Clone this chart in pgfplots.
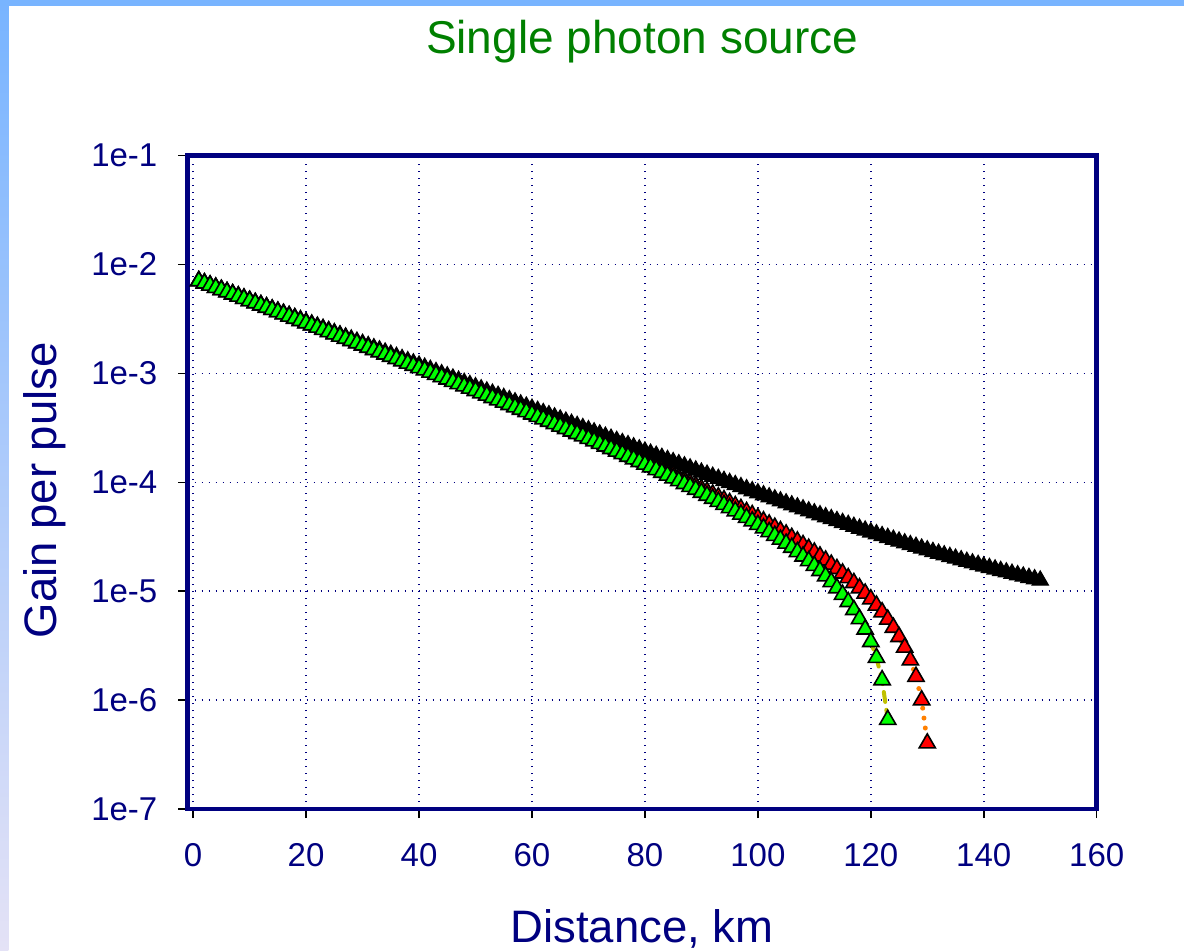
\documentclass[border=0pt]{standalone}
\usepackage{fontspec}
\setmainfont{Liberation Sans}
\usepackage{pgfplots}
\pgfplotsset{compat=1.18}
\usepackage{pgfplotstable}
\definecolor{navy}{RGB}{0,0,128}
\definecolor{titlegreen}{RGB}{0,128,0}
\definecolor{stripblue}{RGB}{120,180,255}
\definecolor{stripbottom}{RGB}{228,226,246}
\definecolor{dotorange}{RGB}{255,128,0}
\definecolor{dashyellow}{RGB}{192,192,0}
\definecolor{mkgreen}{RGB}{0,255,0}
\definecolor{mkred}{RGB}{255,0,0}

\pgfplotstableread{
x y
1 7.133e-3
2 6.812e-3
3 6.506e-3
4 6.213e-3
5 5.934e-3
6 5.667e-3
7 5.412e-3
8 5.169e-3
9 4.936e-3
10 4.715e-3
11 4.503e-3
12 4.300e-3
13 4.107e-3
14 3.922e-3
15 3.746e-3
16 3.578e-3
17 3.417e-3
18 3.263e-3
19 3.117e-3
20 2.977e-3
21 2.843e-3
22 2.715e-3
23 2.593e-3
24 2.477e-3
25 2.365e-3
26 2.259e-3
27 2.158e-3
28 2.061e-3
29 1.968e-3
30 1.880e-3
31 1.795e-3
32 1.715e-3
33 1.638e-3
34 1.564e-3
35 1.494e-3
36 1.427e-3
37 1.363e-3
38 1.302e-3
39 1.244e-3
40 1.188e-3
41 1.135e-3
42 1.084e-3
43 1.035e-3
44 9.89e-4
45 9.45e-4
46 9.02e-4
47 8.62e-4
48 8.23e-4
49 7.87e-4
50 7.515e-4
51 7.179e-4
52 6.858e-4
53 6.552e-4
54 6.259e-4
55 5.980e-4
56 5.713e-4
57 5.458e-4
58 5.215e-4
59 4.982e-4
60 4.761e-4
61 4.549e-4
62 4.346e-4
63 4.153e-4
64 3.968e-4
65 3.792e-4
66 3.624e-4
67 3.463e-4
68 3.309e-4
69 3.163e-4
70 3.023e-4
71 2.889e-4
72 2.761e-4
73 2.639e-4
74 2.523e-4
75 2.411e-4
76 2.305e-4
77 2.204e-4
78 2.107e-4
79 2.014e-4
80 1.926e-4
81 1.841e-4
82 1.761e-4
83 1.684e-4
84 1.610e-4
85 1.540e-4
86 1.473e-4
87 1.409e-4
88 1.348e-4
89 1.290e-4
90 1.234e-4
91 1.181e-4
92 1.130e-4
93 1.081e-4
94 1.035e-4
95 9.91e-5
96 9.48e-5
97 9.08e-5
98 8.69e-5
99 8.33e-5
100 7.976e-5
101 7.640e-5
102 7.319e-5
103 7.013e-5
104 6.720e-5
105 6.441e-5
106 6.174e-5
107 5.919e-5
108 5.676e-5
109 5.443e-5
110 5.222e-5
111 5.010e-5
112 4.807e-5
113 4.614e-5
114 4.429e-5
115 4.253e-5
116 4.085e-5
117 3.924e-5
118 3.770e-5
119 3.624e-5
120 3.484e-5
121 3.350e-5
122 3.222e-5
123 3.100e-5
124 2.984e-5
125 2.872e-5
126 2.766e-5
127 2.665e-5
128 2.568e-5
129 2.475e-5
130 2.387e-5
131 2.302e-5
132 2.222e-5
133 2.145e-5
134 2.071e-5
135 2.001e-5
136 1.934e-5
137 1.870e-5
138 1.809e-5
139 1.751e-5
140 1.695e-5
141 1.642e-5
142 1.591e-5
143 1.542e-5
144 1.496e-5
145 1.452e-5
146 1.409e-5
147 1.369e-5
148 1.330e-5
149 1.294e-5
150 1.258e-5
}\blacktab

\pgfplotstableread{
x y
1 7.067e-3
2 6.746e-3
3 6.441e-3
4 6.148e-3
5 5.869e-3
6 5.603e-3
7 5.348e-3
8 5.105e-3
9 4.873e-3
10 4.652e-3
11 4.440e-3
12 4.238e-3
13 4.045e-3
14 3.860e-3
15 3.685e-3
16 3.517e-3
17 3.356e-3
18 3.203e-3
19 3.057e-3
20 2.917e-3
21 2.784e-3
22 2.656e-3
23 2.534e-3
24 2.419e-3
25 2.307e-3
26 2.201e-3
27 2.101e-3
28 2.004e-3
29 1.911e-3
30 1.824e-3
31 1.739e-3
32 1.659e-3
33 1.583e-3
34 1.509e-3
35 1.439e-3
36 1.373e-3
37 1.309e-3
38 1.248e-3
39 1.191e-3
40 1.135e-3
41 1.082e-3
42 1.032e-3
43 9.83e-4
44 9.37e-4
45 8.94e-4
46 8.51e-4
47 8.11e-4
48 7.73e-4
49 7.37e-4
50 7.022e-4
51 6.689e-4
52 6.371e-4
53 6.069e-4
54 5.779e-4
55 5.503e-4
56 5.240e-4
57 4.988e-4
58 4.749e-4
59 4.519e-4
60 4.301e-4
61 4.093e-4
62 3.893e-4
63 3.703e-4
64 3.522e-4
65 3.349e-4
66 3.185e-4
67 3.027e-4
68 2.876e-4
69 2.734e-4
70 2.597e-4
71 2.466e-4
72 2.342e-4
73 2.223e-4
74 2.110e-4
75 2.002e-4
76 1.899e-4
77 1.801e-4
78 1.708e-4
79 1.618e-4
80 1.533e-4
81 1.452e-4
82 1.375e-4
83 1.301e-4
84 1.231e-4
85 1.164e-4
86 1.100e-4
87 1.040e-4
88 9.82e-5
89 9.27e-5
90 8.75e-5
91 8.25e-5
92 7.77e-5
93 7.32e-5
94 6.89e-5
95 6.48e-5
96 6.08e-5
97 5.72e-5
98 5.36e-5
99 5.03e-5
100 4.709e-5
101 4.405e-5
102 4.117e-5
103 3.843e-5
104 3.582e-5
105 3.335e-5
106 3.100e-5
107 2.877e-5
108 2.665e-5
109 2.464e-5
110 2.274e-5
111 2.094e-5
112 1.922e-5
113 1.760e-5
114 1.606e-5
115 1.461e-5
116 1.324e-5
117 1.194e-5
118 1.070e-5
119 9.55e-6
120 8.45e-6
121 7.41e-6
122 6.43e-6
123 5.505e-6
124 4.639e-6
125 3.815e-6
126 3.046e-6
127 2.325e-6
128 1.643e-6
129 1.000e-6
130 4.02e-7
}\redtab

\pgfplotstableread{
x y
1 7.054e-3
2 6.734e-3
3 6.428e-3
4 6.136e-3
5 5.857e-3
6 5.590e-3
7 5.336e-3
8 5.093e-3
9 4.861e-3
10 4.640e-3
11 4.428e-3
12 4.226e-3
13 4.033e-3
14 3.849e-3
15 3.673e-3
16 3.505e-3
17 3.345e-3
18 3.191e-3
19 3.046e-3
20 2.906e-3
21 2.772e-3
22 2.645e-3
23 2.523e-3
24 2.408e-3
25 2.296e-3
26 2.190e-3
27 2.090e-3
28 1.993e-3
29 1.901e-3
30 1.813e-3
31 1.728e-3
32 1.649e-3
33 1.572e-3
34 1.499e-3
35 1.429e-3
36 1.362e-3
37 1.299e-3
38 1.238e-3
39 1.181e-3
40 1.125e-3
41 1.072e-3
42 1.022e-3
43 9.73e-4
44 9.28e-4
45 8.84e-4
46 8.41e-4
47 8.02e-4
48 7.63e-4
49 7.28e-4
50 6.928e-4
51 6.596e-4
52 6.279e-4
53 5.977e-4
54 5.688e-4
55 5.413e-4
56 5.150e-4
57 4.899e-4
58 4.660e-4
59 4.431e-4
60 4.214e-4
61 4.006e-4
62 3.807e-4
63 3.618e-4
64 3.437e-4
65 3.265e-4
66 3.101e-4
67 2.944e-4
68 2.794e-4
69 2.652e-4
70 2.516e-4
71 2.386e-4
72 2.262e-4
73 2.144e-4
74 2.032e-4
75 1.924e-4
76 1.822e-4
77 1.725e-4
78 1.632e-4
79 1.543e-4
80 1.459e-4
81 1.378e-4
82 1.302e-4
83 1.229e-4
84 1.159e-4
85 1.093e-4
86 1.030e-4
87 9.70e-5
88 9.13e-5
89 8.58e-5
90 8.06e-5
91 7.57e-5
92 7.10e-5
93 6.65e-5
94 6.23e-5
95 5.83e-5
96 5.44e-5
97 5.08e-5
98 4.73e-5
99 4.40e-5
100 4.088e-5
101 3.791e-5
102 3.508e-5
103 3.240e-5
104 2.986e-5
105 2.745e-5
106 2.516e-5
107 2.299e-5
108 2.093e-5
109 1.898e-5
110 1.714e-5
111 1.540e-5
112 1.374e-5
113 1.218e-5
114 1.070e-5
115 9.31e-6
116 7.99e-6
117 6.75e-6
118 5.57e-6
119 4.47e-6
120 3.43e-6
121 2.45e-6
122 1.53e-6
123 6.61e-7
}\greentab

\begin{document}
\begin{tikzpicture}
\path[use as bounding box] (0,0) rectangle (592bp,475.5bp);
\fill[white] (0,0) rectangle (592bp,475.5bp);
\shade[top color=stripblue, bottom color=stripbottom] (0,0) rectangle (4.15bp,475.5bp);
\fill[stripblue] (0,472.6bp) rectangle (592bp,475.5bp);
\begin{axis}[
  at={(93.75bp,71bp)}, anchor=south west,
  scale only axis, width=454.6bp, height=326.65bp,
  xmin=-1, xmax=160, ymin=1e-7, ymax=1e-1, ymode=log,
  xtick={0,20,...,160},
  ytick={1e-7,1e-6,1e-5,1e-4,1e-3,1e-2,1e-1},
  yticklabels={\textrm{1e-7},\textrm{1e-6},\textrm{1e-5},\textrm{1e-4},\textrm{1e-3},\textrm{1e-2},\textrm{1e-1}},
  yminorticks=false,
  tick pos=left, tick align=outside,
  major tick length=4.5bp,
  tick style={black, line width=0.75bp},
  axis line style={navy, line width=2.25bp, line cap=rect},
  grid=major,
  major grid style={navy, line width=0.75bp, dash pattern=on 0.75bp off 2.75bp},
  tick label style={font=\fontsize{16.5bp}{19bp}\selectfont, text=navy},
  /pgf/number format/assume math mode=true,
  xticklabel style={anchor=north, inner sep=0pt},
  yticklabel style={anchor=east, inner sep=0pt},
  xticklabel shift=12.5bp, yticklabel shift=10.4bp,
  title={Single photon source},
  title style={at={(axis description cs:0.5,1.1567)}, anchor=base, yshift=-6pt, inner sep=0pt, font=\fontsize{23bp}{27bp}\selectfont, text=titlegreen},
  xlabel={Distance, km},
  xlabel style={at={(axis description cs:0.5,-0.2036)}, anchor=base, inner sep=0pt, font=\fontsize{22.75bp}{27bp}\selectfont, text=navy},
  ylabel={Gain per pulse},
  ylabel style={at={(axis description cs:-0.1439,0.488)}, anchor=base, inner sep=0pt, font=\fontsize{22.75bp}{27bp}\selectfont, text=navy},
]
\addplot[black, line width=0.8bp, mark=triangle*, mark size=4.7pt,
  mark options={solid, fill=black, draw=black, line width=0.6bp}] table {\blacktab};
\addplot[dotorange, line width=2.5bp, line cap=round, dash pattern=on 0bp off 5bp,
  mark=triangle*, mark size=4.7pt,
  mark options={solid, fill=mkred, draw=black, line width=0.8bp}] table {\redtab};
\addplot[dashyellow, line width=2bp, line cap=round, dash pattern=on 5bp off 4bp,
  mark=triangle*, mark size=4.7pt,
  mark options={solid, fill=mkgreen, draw=black, line width=0.8bp}] table {\greentab};
\end{axis}
\end{tikzpicture}
\end{document}
